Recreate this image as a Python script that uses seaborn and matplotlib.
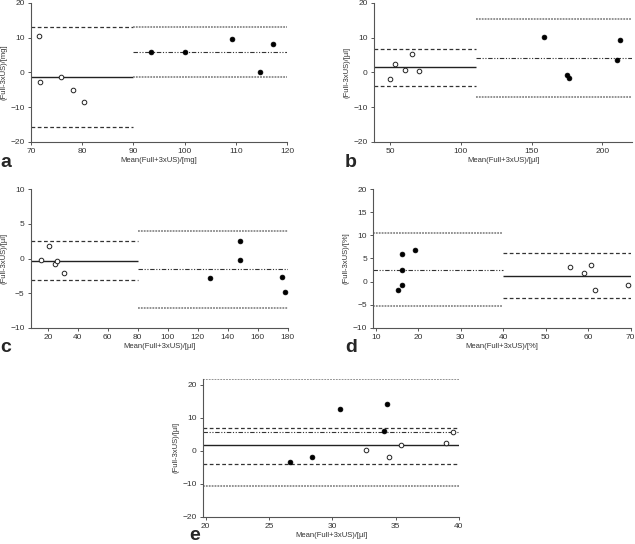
import matplotlib
matplotlib.use('Agg')
import matplotlib.pyplot as plt
import seaborn as sns
import pandas as pd

# Bland-Altman style panels: difference vs mean, two groups per panel
# open circles = group "open", filled = group "filled"

a_open_x = [71.6, 71.8, 75.8, 78.2, 80.3]
a_open_y = [10.4, -2.9, -1.2, -5.0, -8.4]
a_fill_x = [93.5, 100.0, 109.2, 114.8, 117.2]
a_fill_y = [5.8, 5.7, 9.6, 0.2, 8.1]
a_open_lines = [-1.4, 13.0, -15.8]   # mean, upper, lower
a_fill_lines = [5.8, 13.0, -1.3]

b_open_x = [50.0, 53.8, 60.6, 65.3, 70.5]
b_open_y = [-2.0, 2.3, 0.8, 5.3, 0.4]
b_fill_x = [158.8, 175.1, 176.2, 210.3, 212.4]
b_fill_y = [10.1, -0.9, -1.7, 3.6, 9.4]
b_open_lines = [1.4, 6.7, -4.0]
b_fill_lines = [4.0, 15.3, -7.1]

c_open_x = [15.3, 20.7, 24.9, 25.9, 31.1]
c_open_y = [-0.2, 1.8, -0.8, -0.3, -2.1]
c_fill_x = [128.3, 148.2, 148.0, 176.3, 178.3]
c_fill_y = [-2.8, 2.5, -0.2, -2.6, -4.8]
c_open_lines = [-0.3, 2.45, -3.1]
c_fill_lines = [-1.55, 4.0, -7.1]

d_open_x = [55.6, 58.9, 60.6, 61.5, 69.4]
d_open_y = [3.2, 1.9, 3.7, -1.7, -0.8]
d_fill_x = [16.1, 19.3, 16.2, 16.1, 15.3]
d_fill_y = [5.9, 6.9, 2.6, -0.8, -1.9]
d_open_lines = [1.3, 6.2, -3.5]
d_fill_lines = [2.55, 10.4, -5.2]

e_open_x = [32.7, 34.5, 35.4, 39.0, 39.5]
e_open_y = [0.25, -1.8, 1.6, 2.4, 5.6]
e_fill_x = [26.7, 28.4, 30.6, 34.3, 34.1]
e_fill_y = [-3.5, -1.8, 12.7, 14.1, 6.1]
e_open_lines = [1.6, 7.0, -3.9]
e_fill_lines = [5.6, 21.6, -10.7]

units = ['mg', 'µl', 'µl', '%', 'µl']
letters = ['a', 'b', 'c', 'd', 'e']

sns.set_style('ticks')
plt.rcParams['font.family'] = ['Liberation Sans', 'DejaVu Sans']

fig = plt.figure(figsize=(6.35, 5.44), dpi=100)
W, H = 635.0, 544.0

def add_axes(left, right, top, bottom):
    return fig.add_axes([left / W, 1 - bottom / H, (right - left) / W, (bottom - top) / H])

# panel: axes box (px), xlim, ylim, xticks, yticks, segments for open/fill lines
panels = [
    dict(box=(31, 287, 2.7, 142), xlim=(70, 120), ylim=(-20, 20),
         xt=[70, 80, 90, 100, 110, 120], yt=[-20, -10, 0, 10, 20],
         ox=a_open_x, oy=a_open_y, fx=a_fill_x, fy=a_fill_y,
         ol=a_open_lines, fl=a_fill_lines, oseg=(70, 90), fseg=(90, 120),
         lab=(0, 167)),
    dict(box=(374, 632, 2.7, 142), xlim=(38.7, 221), ylim=(-20, 20),
         xt=[50, 100, 150, 200], yt=[-20, -10, 0, 10, 20],
         ox=b_open_x, oy=b_open_y, fx=b_fill_x, fy=b_fill_y,
         ol=b_open_lines, fl=b_fill_lines, oseg=(38.7, 110.5), fseg=(110.5, 221),
         lab=(345, 167)),
    dict(box=(30.7, 287.7, 189, 328), xlim=(8.6, 180), ylim=(-10, 10),
         xt=[20, 40, 60, 80, 100, 120, 140, 160, 180], yt=[-10, -5, 0, 5, 10],
         ox=c_open_x, oy=c_open_y, fx=c_fill_x, fy=c_fill_y,
         ol=c_open_lines, fl=c_fill_lines, oseg=(8.6, 80), fseg=(80, 180),
         lab=(0, 352)),
    dict(box=(373.3, 630.7, 189, 328), xlim=(9.4, 70), ylim=(-10, 20),
         xt=[10, 20, 30, 40, 50, 60, 70], yt=[-10, -5, 0, 5, 10, 15, 20],
         ox=d_open_x, oy=d_open_y, fx=d_fill_x, fy=d_fill_y,
         ol=d_open_lines, fl=d_fill_lines, oseg=(40, 70), fseg=(9.4, 40),
         lab=(345, 352)),
    dict(box=(203, 459, 379, 516.7), xlim=(19.8, 40), ylim=(-20, 21.7),
         xt=[20, 25, 30, 35, 40], yt=[-20, -10, 0, 10, 20],
         ox=e_open_x, oy=e_open_y, fx=e_fill_x, fy=e_fill_y,
         ol=e_open_lines, fl=e_fill_lines, oseg=(19.8, 40), fseg=(19.8, 40),
         lab=(189, 540.5)),
]

spine_col = '#555555'
for p, unit, letter in zip(panels, units, letters):
    ax = add_axes(*p['box'])
    # group "open": solid mean, dashed limits
    m, hi, lo = p['ol']
    ax.hlines(m, *p['oseg'], color='#222222', lw=1.0, ls='-')
    ax.hlines([hi, lo], *p['oseg'], color='#333333', lw=0.9, ls=(0, (3, 2)))
    # group "filled": dash-dot mean, grey dotted limits
    m, hi, lo = p['fl']
    ax.hlines(m, *p['fseg'], color='#333333', lw=0.8, ls=(0, (4, 1.5, 1, 1.5, 1, 1.5)))
    ax.hlines([hi, lo], *p['fseg'], color='#8a8a8a', lw=1.3, ls=(0, (1, 0.6)))

    d_open = pd.DataFrame({'x': p['ox'], 'y': p['oy']})
    d_fill = pd.DataFrame({'x': p['fx'], 'y': p['fy']})
    sns.scatterplot(data=d_open, x='x', y='y', ax=ax, marker='o', s=11,
                    facecolor='white', edgecolor='#222222', linewidth=0.7, zorder=5)
    sns.scatterplot(data=d_fill, x='x', y='y', ax=ax, marker='o', s=12,
                    color='black', edgecolor='black', linewidth=0.5, zorder=5)

    ax.set_xlim(*p['xlim'])
    ax.set_ylim(*p['ylim'])
    ax.set_xticks(p['xt'])
    ax.set_yticks(p['yt'])
    sns.despine(ax=ax)
    for s in ['left', 'bottom']:
        ax.spines[s].set_color(spine_col)
        ax.spines[s].set_linewidth(0.8)
    ax.tick_params(length=2.5, width=0.7, color=spine_col, labelsize=6,
                   labelcolor='#333333', pad=2)
    ax.set_xlabel(f'Mean(Full+3xUS)/[{unit}]', fontsize=5.5, color='#333333', labelpad=1.5)
    ax.set_ylabel(f'(Full-3xUS)/[{unit}]', fontsize=5.5, color='#333333', labelpad=2)
    fig.text(p['lab'][0] / W, 1 - p['lab'][1] / H, letter, fontsize=14,
             fontweight='bold', va='baseline', ha='left')

fig.savefig('out.png', dpi=100)
